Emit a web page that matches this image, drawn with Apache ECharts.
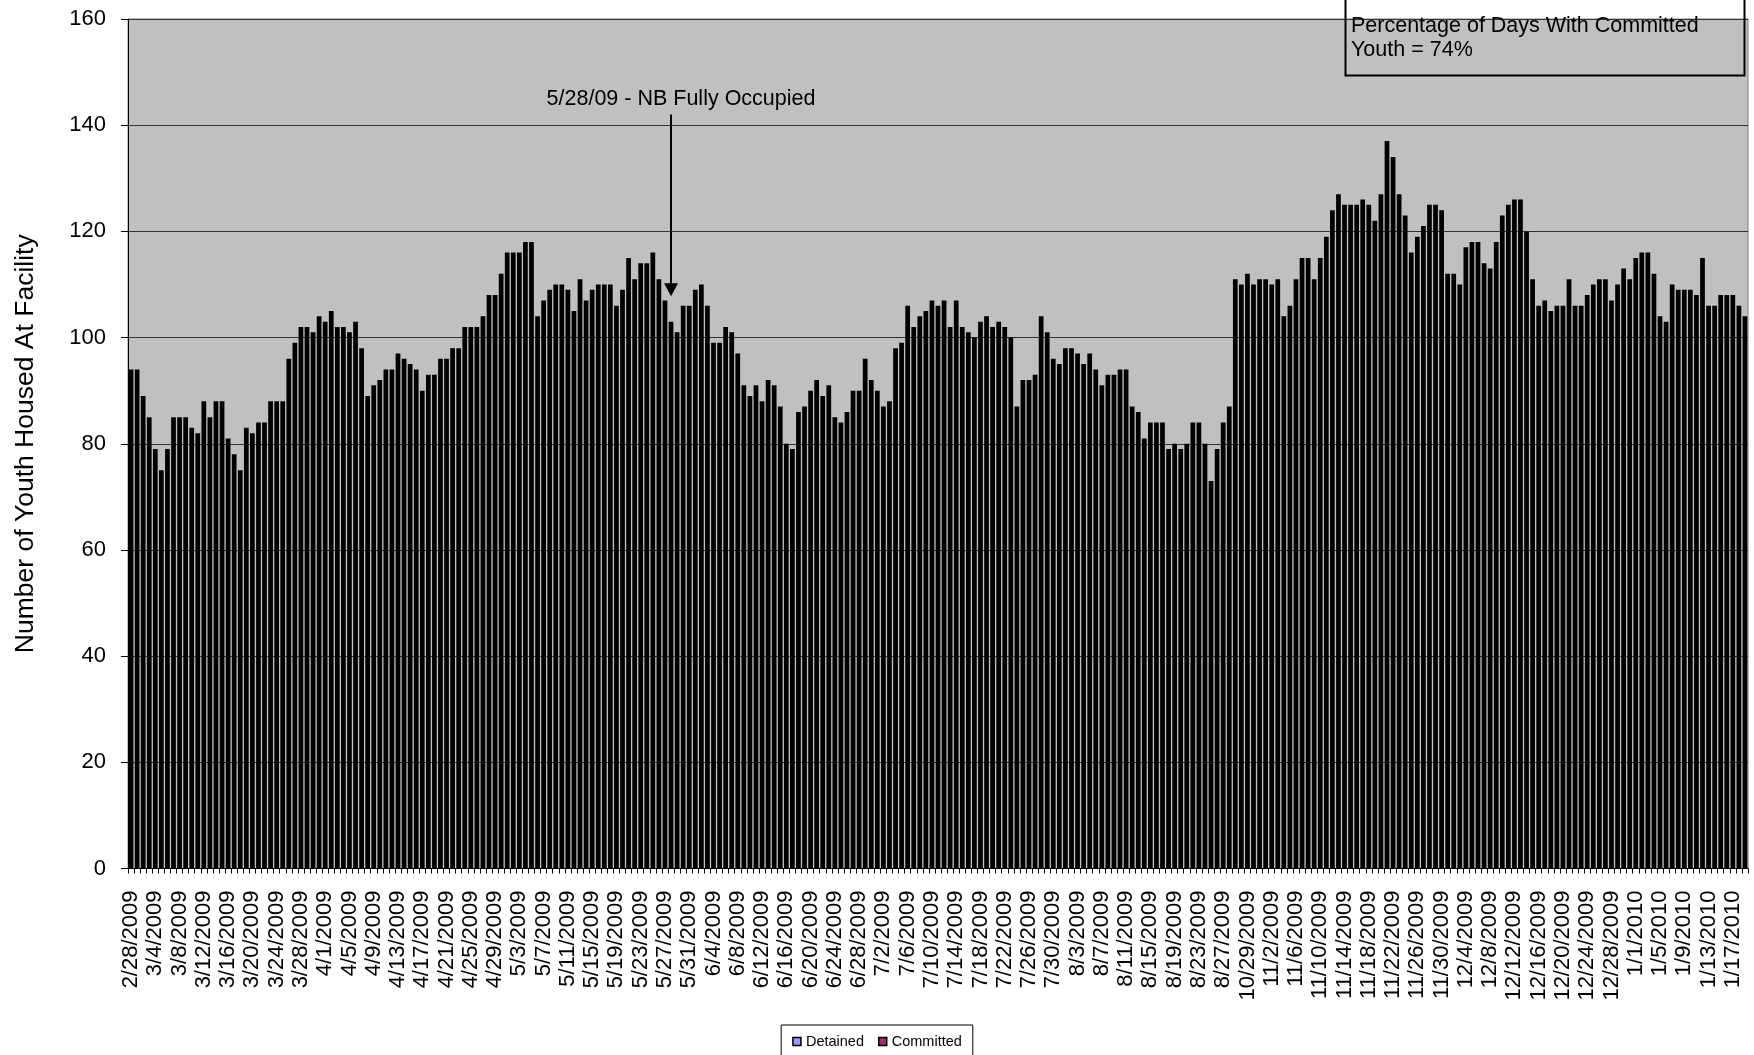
<!DOCTYPE html>
<html>
<head>
<meta charset="utf-8">
<script src="https://cdn.jsdelivr.net/npm/echarts@6/dist/echarts.min.js"></script>
<style>
  html, body { margin: 0; padding: 0; background: #ffffff; }
  #chart { width: 1754px; height: 1055px; }
</style>
</head>
<body>
<div id="chart"></div>
<script>
// Days covered by the count (inclusive runs; no counts between the runs)
const dateRuns = [
  ['2009-02-28', '2009-08-28'],
  ['2009-10-27', '2010-01-19']
];

// Youth housed at the facility, one value per day
const youthHoused = [
  94, 94, 89, 85, 79, 75, 79, 85, 85, 85, 83, 82, 88, 85, 88, 88, 81, 78, 75, 83,
  82, 84, 84, 88, 88, 88, 96, 99, 102, 102, 101, 104, 103, 105,
  102, 102, 101, 103, 98, 89, 91, 92, 94, 94, 97, 96, 95, 94, 90, 93, 93, 96, 96, 98,
  98, 102, 102, 102, 104, 108, 108, 112, 116, 116, 116, 118, 118,
  104, 107, 109, 110, 110, 109, 105, 111, 107, 109, 110, 110, 110, 106, 109, 115, 111,
  114, 114, 116, 111, 107, 103, 101, 106, 106, 109, 110, 106, 99, 99, 102, 101, 97,
  91, 89, 91, 88, 92, 91, 87, 80, 79, 86, 87, 90, 92, 89, 91, 85, 84, 86, 90, 90,
  96, 92, 90, 87, 88, 98, 99, 106, 102, 104, 105, 107, 106, 107,
  102, 107, 102, 101, 100, 103, 104, 102, 103, 102, 100, 87, 92, 92, 93, 104, 101, 96,
  95, 98, 98, 97, 95, 97, 94, 91, 93, 93, 94, 94, 87, 86, 81, 84,
  84, 84, 79, 80, 79, 80, 84, 84, 80, 73, 79, 84, 87,
  111, 110, 112, 110, 111, 111, 110, 111, 104, 106, 111, 115, 115, 111, 115, 119, 124,
  127, 125, 125, 125,
  126, 125, 122, 127, 137, 134, 127, 123, 116, 119, 121, 125, 125, 124, 112, 112, 110,
  117, 118, 118, 114, 113, 118, 123, 125, 126, 126, 120, 111, 106, 107, 105, 106, 106,
  111, 106, 106, 108, 110, 111, 111, 107, 110, 113, 111, 115, 116, 116, 112, 104, 103,
  110, 109, 109, 109, 108, 115, 106, 106, 108, 108, 108, 106, 104
];

const seriesNames = ['Detained', 'Committed'];
const legendColors = ['#9999FF', '#993366'];
const yAxisRange = [0, 160];
const yAxisStep = 20;
const yAxisTitle = 'Number of Youth Housed At Facility';
const annotationDate = '5/28/2009';
const annotationText = '5/28/09 - NB Fully Occupied';
const annotationRange = [142, 109];
const noteLines = ['Percentage of Days With Committed', 'Youth = 74%'];

// Expand the inclusive date runs into M/D/YYYY category labels
function expandRuns(runs) {
  const out = [];
  runs.forEach(([from, to]) => {
    const d = new Date(from + 'T00:00:00Z');
    const end = new Date(to + 'T00:00:00Z');
    while (d <= end) {
      out.push((d.getUTCMonth() + 1) + '/' + d.getUTCDate() + '/' + d.getUTCFullYear());
      d.setUTCDate(d.getUTCDate() + 1);
    }
  });
  return out;
}
const dayLabels = expandRuns(dateRuns);

const FONT = '"Liberation Sans", Arial, Helvetica, sans-serif';
const chart = echarts.init(document.getElementById('chart'), null, { renderer: 'canvas' });

chart.setOption({
  animation: false,
  backgroundColor: '#ffffff',
  textStyle: { fontFamily: FONT, color: '#000' },
  grid: {
    left: 128, right: 6, top: 19, bottom: 186.5,
    show: true,
    backgroundColor: '#C0C0C0',
    borderColor: '#808080',
    borderWidth: 1
  },
  legend: {
    left: 'center',
    top: 1025,
    orient: 'horizontal',
    icon: 'rect',
    itemWidth: 8,
    itemHeight: 8,
    itemGap: 14,
    padding: [9, 11, 12, 11],
    borderColor: '#000',
    borderWidth: 1,
    backgroundColor: '#ffffff',
    textStyle: { fontFamily: FONT, fontSize: 14.5, color: '#000' },
    selectedMode: false,
    data: seriesNames.map((name, i) => ({
      name,
      itemStyle: { color: legendColors[i], borderColor: '#000', borderWidth: 1.5 }
    }))
  },
  xAxis: {
    type: 'category',
    data: dayLabels,
    boundaryGap: true,
    axisLine: { show: true, lineStyle: { color: '#000', width: 1 } },
    axisTick: { show: true, interval: 0, length: 5, lineStyle: { color: '#000' } },
    axisLabel: {
      interval: 3,
      rotate: 90,
      margin: 22,
      fontFamily: FONT,
      fontSize: 22,
      color: '#000'
    },
    splitLine: { show: false }
  },
  yAxis: {
    type: 'value',
    min: yAxisRange[0],
    max: yAxisRange[1],
    interval: yAxisStep,
    name: yAxisTitle,
    nameLocation: 'middle',
    nameRotate: 90,
    nameGap: 89,
    nameTextStyle: { fontFamily: FONT, fontSize: 26.5, color: '#000' },
    axisLine: { show: true, lineStyle: { color: '#000', width: 1 } },
    axisTick: { show: true, length: 7, inside: false, lineStyle: { color: '#000' } },
    axisLabel: { margin: 22, fontFamily: FONT, fontSize: 22, color: '#000' },
    splitLine: { show: true, lineStyle: { color: '#333', width: 1 } }
  },
  series: [
    {
      name: seriesNames[0],
      type: 'bar',
      stack: 'youth',
      data: youthHoused,
      barCategoryGap: '22%',
      itemStyle: { color: '#000' },
      markLine: {
        silent: true,
        animation: false,
        symbol: ['none', 'triangle'],
        symbolSize: [14, 13],
        lineStyle: { color: '#000', width: 2, type: 'solid' },
        label: {
          show: true,
          position: 'start',
          formatter: annotationText,
          fontFamily: FONT,
          fontSize: 21.5,
          color: '#000',
          distance: 4,
          padding: [0, 0, 0, 20]
        },
        data: [[
          { xAxis: annotationDate, yAxis: annotationRange[0] },
          { xAxis: annotationDate, yAxis: annotationRange[1] }
        ]]
      }
    },
    {
      name: seriesNames[1],
      type: 'bar',
      stack: 'youth',
      data: [],
      itemStyle: { color: '#000' }
    }
  ],
  graphic: [
    {
      type: 'rect',
      left: 1343,
      top: -6,
      shape: { width: 399, height: 79 },
      style: { fill: 'none', stroke: '#000', lineWidth: 2 },
      silent: true,
      z: 100
    },
    {
      type: 'text',
      left: 1351,
      top: 14,
      style: {
        text: noteLines.join('\n'),
        font: '21.5px ' + FONT,
        lineHeight: 24,
        fill: '#000'
      },
      silent: true,
      z: 100
    }
  ]
});
</script>
</body>
</html>
